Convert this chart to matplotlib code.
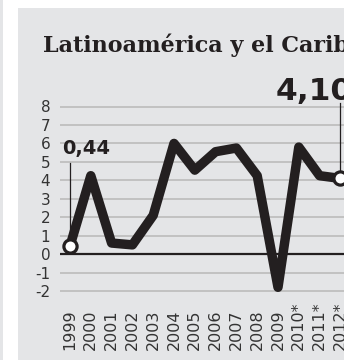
import matplotlib
matplotlib.use("Agg")
import matplotlib.pyplot as plt
from matplotlib.patches import Rectangle
from matplotlib.transforms import blended_transform_factory

# ---- data ----
years = [1999, 2000, 2001, 2002, 2003, 2004, 2005, 2006, 2007, 2008, 2009, 2010, 2011, 2012]
year_labels = ["1999", "2000", "2001", "2002", "2003", "2004", "2005", "2006",
               "2007", "2008", "2009", "2010*", "2011*", "2012*"]
growth = [0.44, 4.25, 0.6, 0.5, 2.1, 6.0, 4.55, 5.55, 5.75, 4.25, -1.8, 5.8, 4.25, 4.10]
yticks = [8, 7, 6, 5, 4, 3, 2, 1, 0, -1, -2]
ytick_labels = ["8", "7", "6", "5", "4", "3", "2", "1", "0", "-1", "-2"]
title = "Latinoamérica y el Caribe"

W, H = 344, 360
fig = plt.figure(figsize=(W / 100, H / 100), dpi=100)
fig.patch.set_facecolor("white")

panel = "#e4e5e7"
fig.patches.append(Rectangle((0, 0), 3 / W, 1, transform=fig.transFigure,
                             facecolor=panel, edgecolor="none", zorder=-5))
fig.patches.append(Rectangle((17.5 / W, 0), 1, (H - 8) / H, transform=fig.transFigure,
                             facecolor=panel, edgecolor="none", zorder=-5))

# axes placement in pixels
ax_l, ax_r, ax_t, ax_b = 60, 344, 98, 297
ax = fig.add_axes([ax_l / W, (H - ax_b) / H, (ax_r - ax_l) / W, (ax_b - ax_t) / H])
ax.set_facecolor("none")
px_per_year = 20.8
ax.set_xlim(1999 - 10 / px_per_year, 1999 + (ax_r - 70) / px_per_year)
px_per_unit = 18.45
ax.set_ylim(-2 - (ax_b - 291) / px_per_unit, 8 + (106.5 - ax_t) / px_per_unit)
for s in ax.spines.values():
    s.set_visible(False)

for v in yticks:
    if v == 0:
        ax.axhline(v, color="#231f20", lw=1.6, zorder=2)
    else:
        ax.axhline(v, color="#b8b8b8", lw=1.1, zorder=1)

ax.set_yticks(yticks)
ax.set_yticklabels(ytick_labels, fontsize=11, color="#333333", family="DejaVu Sans")
ax.tick_params(axis="y", length=0, pad=7)
ax.set_xticks([])

# x labels, rotated, bottom-aligned
trans = blended_transform_factory(ax.transData, fig.transFigure)
for x, lab in zip(years, year_labels):
    ax.text(x, 10 / H, lab, transform=trans, rotation=90, ha="center", va="bottom",
            fontsize=11.5, color="#333333", clip_on=False)

# main line
ax.plot(years, growth, color="#231f20", lw=6.8, solid_joinstyle="round",
        solid_capstyle="round", zorder=4, clip_on=False)

# leader lines and markers
first, last = growth[0], growth[-1]
ax.plot([years[0], years[0]], [first, 4.94], color="#231f20", lw=0.9, zorder=3)
ax.plot([years[-1], years[-1]], [last, 8.19], color="#231f20", lw=0.9, zorder=3,
        clip_on=False)
ax.plot([years[0], years[-1]], [first, last], ls="none", marker="o", ms=9.5,
        mfc="white", mec="#231f20", mew=2.3, zorder=5, clip_on=False)

ax.text(1998.62, 5.43, f"{first:.2f}".replace(".", ","), fontsize=14,
        fontweight="bold", color="#231f20", ha="left", va="baseline", zorder=6)
ax.text(2008.9, 8.35, f"{last:.2f}".replace(".", ","), fontsize=22.5,
        fontweight="heavy", color="#231f20", ha="left", va="baseline", zorder=6,
        clip_on=False)

fig.text(43 / W, (H - 52) / H, title, fontsize=16, family="DejaVu Serif",
         fontweight="bold", color="#231f20", ha="left", va="baseline")

fig.savefig("out.png", dpi=100)
